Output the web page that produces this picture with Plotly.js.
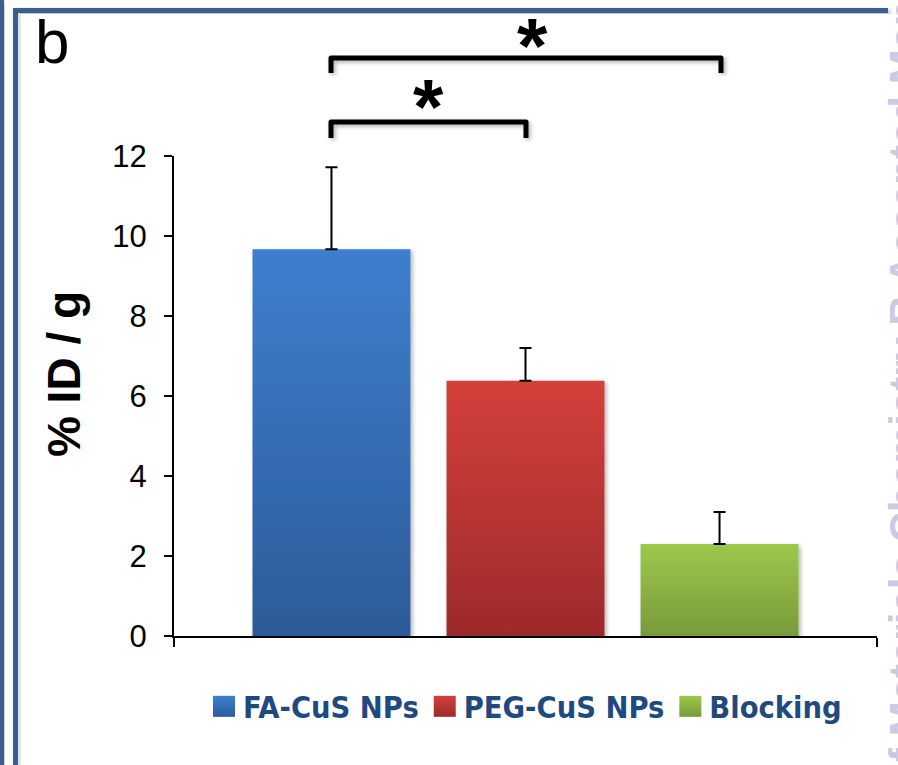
<!DOCTYPE html>
<html><head><meta charset="utf-8">
<script src="https://cdn.plot.ly/plotly-3.0.1.min.js"></script>
<style>html,body{margin:0;padding:0;background:#fff;} #chart{width:898px;height:765px;}</style>
</head><body><div id="chart"></div>
<script>
// ---- data ----
const categories = ['FA-CuS NPs', 'PEG-CuS NPs', 'Blocking'];
const values = [9.67, 6.38, 2.30];
const errorsPlus = [2.05, 0.82, 0.80];
const yTicks = [0, 2, 4, 6, 8, 10, 12];
const yTickLabels = ['0', '2', '4', '6', '8', '10', '12'];
const colorsTop = ['#3E7FCE', '#D4403B', '#9DC84B'];
const colorsBottom = ['#2C5B99', '#9C2A2B', '#789A3B'];
const sigLabel = '*';
const yTitle = '% ID / g';
const panelLabel = 'b';
const watermark = 'Journal of Materials Chemistry B Accepted Manuscript';

// ---- geometry helpers (pixel -> paper) ----
const W = 898, H = 765;
const L = 174, R = 877, T = 156, B = 636;
const px = x => (x - L) / (R - L);
const py = y => (B - y) / (B - T);

const traces = categories.map((c, i) => ({
  type: 'bar', name: c, x: ['g'], y: [values[i]],
  marker: {color: colorsTop[i], line: {width: 0}},
  error_y: {type: 'data', array: [errorsPlus[i]], arrayminus: [0], symmetric: false,
            color: '#000', thickness: 2, width: 6},
  hoverinfo: 'none'
}));

const frameColor = '#3B5E8E';
function rectPx(x0, y0, x1, y1, color) {
  return {type: 'rect', xref: 'paper', yref: 'paper', x0: px(x0), x1: px(x1), y0: py(y0), y1: py(y1),
          fillcolor: color, line: {width: 0}, layer: 'below'};
}
function bracket(xl, xr, ytop, ybot) {
  return {type: 'path', xref: 'paper', yref: 'paper',
          path: `M${px(xl)},${py(ybot)} L${px(xl)},${py(ytop)} L${px(xr)},${py(ytop)} L${px(xr)},${py(ybot)}`,
          line: {color: '#000', width: 5}};
}

const layout = {
  width: W, height: H,
  margin: {l: L, r: W - R, t: T, b: H - B, pad: 0, autoexpand: false},
  paper_bgcolor: '#fff', plot_bgcolor: '#fff',
  barmode: 'group', bargap: 0.172, bargroupgap: 0.186,
  showlegend: true,
  legend: {orientation: 'h', xref: 'container', yref: 'container',
           x: 203 / W, xanchor: 'left', y: 1 - 680 / H, yanchor: 'top',
           font: {family: 'Liberation Sans Narrow, Arial Narrow, DejaVu Sans Condensed, sans-serif',
                  size: 30.5, weight: 'bold', color: '#1F4A7F'},
           bgcolor: 'rgba(0,0,0,0)', borderwidth: 0, itemwidth: 30},
  xaxis: {type: 'category', range: [-0.5, 0.5], showticklabels: false, ticks: 'outside',
          tickson: 'boundaries', ticklen: 9, tickwidth: 2, tickcolor: '#000',
          showline: true, linewidth: 2, linecolor: '#000', showgrid: false, zeroline: false,
          fixedrange: true},
  yaxis: {range: [0, 12], tickvals: yTicks, ticktext: yTickLabels, ticks: 'outside', ticklen: 8,
          tickwidth: 2, tickcolor: '#000', showline: true, linewidth: 2, linecolor: '#000',
          showgrid: false, zeroline: false, automargin: false, ticklabelstandoff: 11,
          tickfont: {family: 'Arial, Liberation Sans, sans-serif', size: 31, color: '#000'},
          title: {text: yTitle, standoff: 17,
                  font: {family: 'Arial, Liberation Sans, sans-serif', size: 46, weight: 'bold', color: '#000'}}},
  shapes: [
    rectPx(0, 0, 4, 765, frameColor),
    rectPx(13, 8, 18, 765, frameColor),
    rectPx(13, 8, 888, 13, frameColor),
    rectPx(18, 13, 20, 765, '#DCE0EA'),
    bracket(331, 526, 122, 138),
    bracket(331, 721, 58, 73)
  ],
  annotations: [
    {text: panelLabel, xref: 'paper', yref: 'paper', x: px(33), y: py(5), xanchor: 'left', yanchor: 'top',
     showarrow: false, font: {family: 'Arial, Liberation Sans, sans-serif', size: 62, color: '#000'}},
    {text: sigLabel, xref: 'paper', yref: 'paper', x: px(428), y: py(61), xanchor: 'center', yanchor: 'top',
     showarrow: false, font: {family: 'Arial, Liberation Sans, sans-serif', size: 78, weight: 'bold', color: '#000'}},
    {text: sigLabel, xref: 'paper', yref: 'paper', x: px(532), y: py(0), xanchor: 'center', yanchor: 'top',
     showarrow: false, font: {family: 'Arial, Liberation Sans, sans-serif', size: 78, weight: 'bold', color: '#000'}},
    {text: watermark, xref: 'paper', yref: 'paper', x: px(879), y: py(953), xanchor: 'left', yanchor: 'bottom',
     textangle: -90, showarrow: false,
     font: {family: 'Arial, Liberation Sans, sans-serif', size: 42, weight: 'bold', color: '#C9CAE4'}}
  ]
};

Plotly.newPlot('chart', traces, layout, {staticPlot: true, displayModeBar: false}).then(gd => {
  const ns = 'http://www.w3.org/2000/svg';
  const svg = gd.querySelector('svg.main-svg');
  const defs = document.createElementNS(ns, 'defs');
  colorsTop.forEach((c, i) => {
    const g = document.createElementNS(ns, 'linearGradient');
    g.setAttribute('id', 'barGrad' + i);
    g.setAttribute('x1', '0'); g.setAttribute('y1', '0'); g.setAttribute('x2', '0'); g.setAttribute('y2', '1');
    [[0, colorsTop[i]], [1, colorsBottom[i]]].forEach(([o, col]) => {
      const s = document.createElementNS(ns, 'stop');
      s.setAttribute('offset', o); s.setAttribute('stop-color', col);
      g.appendChild(s);
    });
    defs.appendChild(g);
  });
  const f = document.createElementNS(ns, 'filter');
  f.setAttribute('id', 'softShadow');
  f.setAttribute('x', '-20%'); f.setAttribute('y', '-20%'); f.setAttribute('width', '140%'); f.setAttribute('height', '140%');
  const ds = document.createElementNS(ns, 'feDropShadow');
  ds.setAttribute('dx', '2'); ds.setAttribute('dy', '2'); ds.setAttribute('stdDeviation', '2');
  ds.setAttribute('flood-color', '#000'); ds.setAttribute('flood-opacity', '0.3');
  f.appendChild(ds); defs.appendChild(f);
  svg.insertBefore(defs, svg.firstChild);

  gd.querySelectorAll('.barlayer .trace').forEach(t => {
    const idx = t.__data__ && t.__data__[0] ? t.__data__[0].trace.index : 0;
    t.querySelectorAll('.point path').forEach(p => {
      p.style.fill = `url(#barGrad${idx})`;
      p.setAttribute('filter', 'url(#softShadow)');
    });
  });
  gd.querySelectorAll('.legend .traces').forEach(t => {
    const idx = t.__data__ && t.__data__[0] ? t.__data__[0].trace.index : 0;
    t.querySelectorAll('.legendpoints path').forEach(p => {
      p.style.fill = `url(#barGrad${idx})`;
      p.setAttribute('d', 'M-11,-10.5H11V10.5H-11Z');
      p.setAttribute('transform', 'translate(21,0)');
    });
  });
  gd.querySelectorAll('.shapelayer path').forEach(p => {
    if ((p.style.stroke || '').indexOf('0, 0, 0') >= 0 || p.style.stroke === '#000') {
      p.style.strokeLinejoin = 'round';
      p.setAttribute('filter', 'url(#softShadow)');
    }
  });
  // the reference's axis title sits ~22px above the plot-area centre
  const yt = gd.querySelector('.ytitle');
  if (yt) {
    const tr = yt.getAttribute('transform') || '';
    yt.setAttribute('transform', 'translate(0,-22) ' + tr);
  }
});
</script>
</body></html>
